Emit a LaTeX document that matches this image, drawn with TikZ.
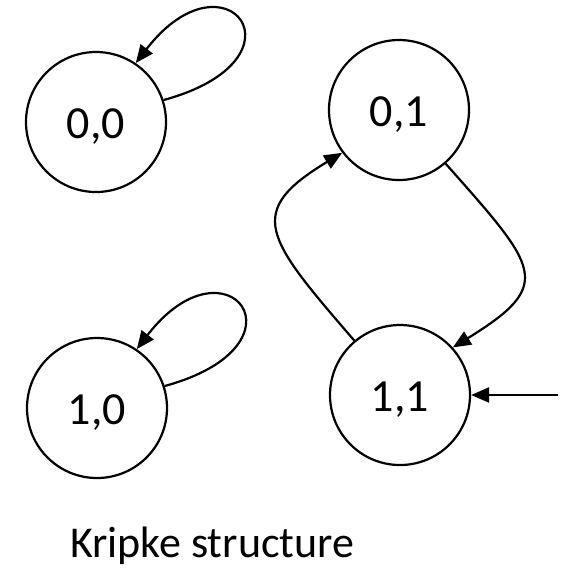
\documentclass[tikz,border=0pt]{standalone}
\usepackage{fontspec}
\setmainfont{Carlito}
\usetikzlibrary{arrows.meta}
\begin{document}
\begin{tikzpicture}[x=0.5pt,y=-0.5pt,
  state/.style={draw, circle, line width=1.1pt, minimum size=70pt, inner sep=0pt,
    text height=16.5pt, text depth=0pt, font=\fontsize{23}{28}\selectfont},
  trans/.style={line width=1.1pt, -{Triangle[length=9pt,width=7.5pt]}}]
  \useasboundingbox (0,0) rectangle (572,570);

  % states
  \node[state] (s00) at (96,122) {0,0};
  \node[state] (s01) at (399,110) {0,1};
  \node[state] (s10) at (97,408) {1,0};
  \node[state] (s11) at (400,395) {1,1};

  % self loops
  \draw[trans] (s00.18) .. controls +(150,-41) and +(90,-117) .. (s00.56);
  \draw[trans] (s10.18) .. controls +(150,-41) and +(90,-117) .. (s10.56);

  % transitions between 0,1 and 1,1
  \draw[trans] (s01.-49) .. controls +(93,105) and +(102,-63) .. (s11.42);
  \draw[trans] (s11.130) .. controls +(-89,-103) and +(-98,59) .. (s01.217);

  % initial state
  \coordinate (init) at (558,395);
  \draw[trans] (init) -- (s11.east);

  \node[anchor=base west, font=\fontsize{22}{26}\selectfont] (caption) at (63,557) {Kripke structure};
\end{tikzpicture}
\end{document}
